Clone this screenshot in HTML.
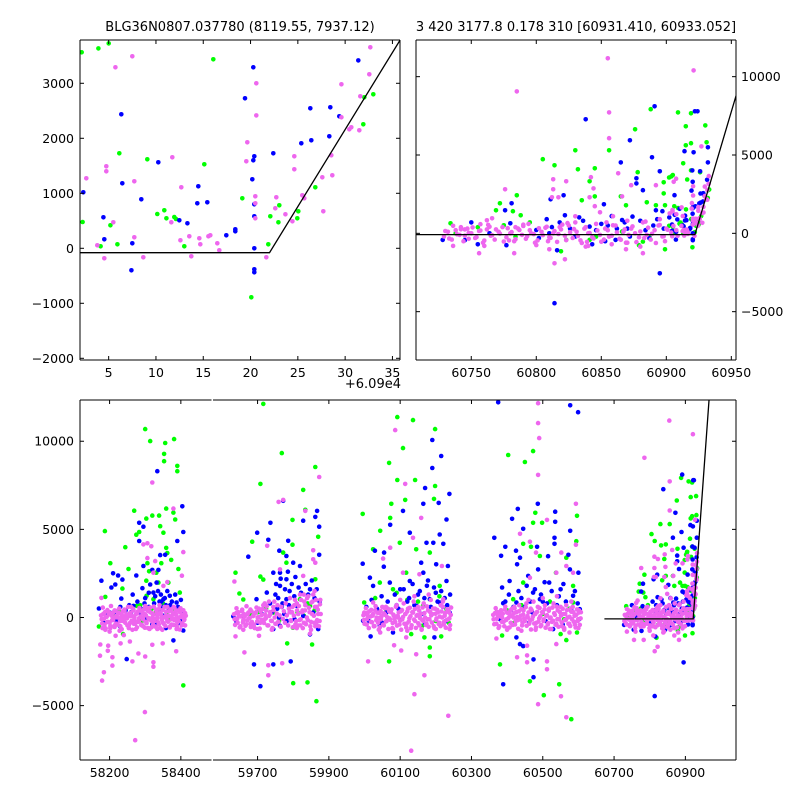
<!DOCTYPE html>
<html><head><meta charset="utf-8">
<style>
html,body{margin:0;padding:0;background:#fff;}
svg{display:block;font-family:"DejaVu Sans","Liberation Sans",sans-serif;}
</style></head>
<body>
<svg id="chart" width="800" height="800" viewBox="0 0 800 800" xmlns="http://www.w3.org/2000/svg">
<rect x="0" y="0" width="800" height="800" fill="#fff"/>
<text x="240" y="31" font-size="13" text-anchor="middle">BLG36N0807.037780 (8119.55, 7937.12)</text>
<text x="576" y="31" font-size="13" text-anchor="middle">3 420 3177.8 0.178 310 [60931.410, 60933.052]</text>
<text x="401" y="388" font-size="13" text-anchor="end">+6.09e4</text>
<defs>
<clipPath id="clipTL"><rect x="80" y="40" width="320" height="320"/></clipPath>
<clipPath id="clipTR"><rect x="416" y="40" width="320" height="320"/></clipPath>
<clipPath id="clipB1"><rect x="80" y="400" width="131.5" height="360"/></clipPath>
<clipPath id="clipB2"><rect x="213" y="400" width="523" height="360"/></clipPath>
</defs>
<g id="layer"></g>
</svg>
<script>
// ---------- DATA ----------
const OFFSET = 60900;
// top-left zoom data: [days after 60900, flux]
const tlGreen = [[2.15,3563],[3.91,3635],[5.0,3726],[16.06,3436],[6.13,1727],[9.09,1618],[15.11,1527],[2.25,478],[5.18,418],[5.92,72],[4.15,36],[10.14,624],[10.88,690],[11.1,545],[11.94,569],[12.12,533],[13.0,36],[19.13,908],[20.08,-891],[21.88,72],[22.09,581],[22.94,472],[23.04,781],[24.94,545],[25.05,672],[26.85,1108],[31.92,2254],[32.03,2745],[32.98,2799]];
const tlBlue = [[20.29,3290],[6.34,2436],[19.41,2727],[10.25,1563],[6.44,1181],[2.32,1018],[8.45,890],[14.48,1127],[14.37,818],[15.43,836],[4.44,563],[12.47,509],[13.32,454],[4.54,163],[7.5,90],[17.44,236],[18.39,345],[18.39,309],[20.4,1672],[20.29,1599],[20.19,1254],[20.4,799],[20.4,581],[20.4,-1],[20.4,-382],[20.4,-437],[7.4,-400],[22.41,1727],[25.37,1908],[26.42,1963],[26.32,2545],[28.43,2563],[29.38,2399],[28.33,2036],[31.39,3417]];
const tlPink = [[7.5,3490],[5.71,3290],[20.61,2999],[20.61,2417],[2.64,1272],[4.75,1490],[4.75,1399],[7.71,1218],[11.73,1654],[12.68,1108],[5.49,472],[11.62,472],[7.71,199],[3.8,54],[4.54,-182],[8.66,-164],[12.58,145],[13.53,218],[14.58,181],[14.69,72],[15.54,218],[15.75,236],[16.49,90],[16.7,-37],[13.74,-146],[19.66,1927],[19.55,1581],[20.5,945],[20.5,818],[20.5,545],[21.67,-164],[22.72,927],[22.62,727],[23.68,618],[24.42,490],[24.63,1672],[24.63,1436],[25.47,963],[25.68,908],[27.59,1290],[28.64,1327],[28.54,1690],[27.69,672],[29.6,2981],[29.6,2381],[30.44,2163],[30.65,2199],[31.5,2145],[31.6,2763],[32.55,3163],[32.66,3654]];

// season 1
const c1Green = [[58300,10690],[58314,10010],[58356,9900],[58381,10120],[58353,9280],[58353,8870],[58390,8600],[58390,8300],[58269,6060],[58303,5610],[58320,5780],[58339,5780],[58359,6180],[58379,5950],[58384,5560],[58283,4850],[58275,4700],[58351,4810],[58244,3990],[58187,4900],[58202,3080],[58253,2750],[58359,3950],[58362,3660],[58373,3270],[58393,2750],[58306,3080],[58311,2620],[58345,3080],[58331,2540],[58303,2090],[58337,1980],[58365,1980],[58188,1170],[58236,1640],[58342,5180],[58170,-510],[58407,-3850],[58304,1230],[58323,1040],[58276,660],[58360,280],[58397,1410],[58238,-940],[58388,-470],[58250,100],[58290,-200],[58330,300],[58210,150],[58370,-100],[58226,400],[58286,700],[58318,500],[58350,800],[58380,350],[58196,200]];
const c1Blue = [[58334,8300],[58404,6310],[58283,5370],[58295,5150],[58283,4340],[58390,4340],[58407,4850],[58210,2510],[58224,2380],[58236,2150],[58177,2090],[58205,1700],[58216,1870],[58233,1070],[58275,2380],[58295,2920],[58320,2700],[58337,2700],[58342,3540],[58356,3560],[58292,1660],[58314,1870],[58332,1980],[58323,1410],[58351,1040],[58369,1230],[58388,850],[58397,470],[58267,660],[58285,280],[58248,-2360],[58379,-1300],[58407,-740],[58170,510],[58201,280],[58304,-90],[58341,470],[58332,-280],[58260,300],[58350,100],[58395,-300],[58220,-200],[58310,600],[58345,900],[58370,700],[58300,1100],[58265,1300],
[58325,800],[58328,1200],[58336,1500],[58340,900],[58344,1300],[58348,600],[58355,1100],[58358,700],[58362,1500],[58366,400],[58375,900],[58384,1300],[58392,600],[58400,1000],[58404,300],[58310,1400],[58298,800],[58288,500],[58278,900],[58255,700],[58245,400],[58230,600],[58212,300],[58190,100],[58183,-300],[58229,-500],[58320,-400],[58358,-600],[58402,-100]];
const c1Pink = [[58320,7660],[58379,6180],[58407,3710],[58403,2370],[58295,4150],[58306,4210],[58317,4040],[58306,3370],[58328,3200],[58362,2010],[58177,1110],[58323,2540],[58351,1790],[58179,-3580],[58184,-3110],[58173,-2170],[58208,-2260],[58196,-1600],[58208,-2730],[58174,-1530],[58195,-1890],[58299,-5370],[58272,-6960],[58281,-2040],[58264,-2490],[58300,-2210],[58323,-2540],[58323,-2790],[58349,-1470],[58387,-1920],[58320,-1550],[58231,-1470],[58257,-1360],[58217,-1040],[58240,-1000],[58200,-800],[58180,-600],
[58178,-100],[58182,200],[58186,-400],[58190,50],[58194,-250],[58198,300],[58202,-600],[58206,100],[58210,-150],[58214,400],[58218,-350],[58222,0],[58226,250],[58230,-500],[58234,150],[58238,-200],[58242,350],[58246,-50],[58250,-450],[58254,200],[58258,-300],[58262,100],[58266,500],[58270,-150],[58274,-650],[58278,250],[58282,-50],[58286,400],[58290,-400],[58294,0],[58298,200],[58302,-250],[58306,550],[58310,-100],[58314,300],[58318,-550],[58322,150],[58326,-200],[58330,450],[58334,-50],[58338,-400],[58342,250],[58346,0],[58350,-300],[58354,600],[58358,100],[58362,-200],[58366,350],[58370,-500],[58374,50],[58378,200],[58382,-150],[58386,400],[58390,-300],[58394,0],[58398,300],[58402,-450],[58406,150],[58410,-100],[58412,250],[58200,-300],[58240,50],[58280,-250],[58320,0],[58360,-50],[58400,50],[58260,600],[58300,650],[58340,700],[58380,600],[58188,-700],[58228,-750],[58268,-350],[58308,-600],[58348,-700],[58388,-650],[58214,-450],[58254,-600],[58294,-500],[58334,-650],[58374,-400],
[58176,120],[58179,-340],[58181,560],[58184,-80],[58187,300],[58189,-620],[58192,40],[58194,420],[58197,-260],[58199,180],[58202,-480],[58204,650],[58207,-150],[58209,260],[58212,-30],[58214,-540],[58217,380],[58219,90],[58222,-400],[58224,220],[58227,510],[58229,-210],[58232,0],[58234,-660],[58237,340],[58239,-120],[58242,450],[58244,-300],[58247,150],[58249,-50],[58252,600],[58254,-450],[58257,80],[58259,280],[58262,-180],[58264,-700],[58267,410],[58269,20],[58272,-350],[58274,190],[58277,-560],[58279,330],[58282,-220],[58284,540],[58287,60],[58289,-430],[58292,270],[58294,-110],[58297,470],[58299,-580],[58302,130],[58304,-320],[58307,380],[58309,-30],[58312,-650],[58314,560],[58317,-190],[58319,240],[58322,-410],[58324,620],[58327,-90],[58329,-520],[58332,300],[58334,110],[58337,-280],[58339,500],[58342,-600],[58344,200],[58347,-130],[58349,420],[58352,-360],[58354,40],[58357,-480],[58359,330],[58362,600],[58364,-240],[58367,90],[58369,-570],[58372,460],[58374,-100],[58377,280],[58379,-420],[58382,560],[58384,-60],[58387,170],[58389,-510],[58392,390],[58394,-200],[58397,-680],[58399,520],[58402,20],[58404,-330],[58407,410],[58409,-150],[58412,-450],[58414,100]];

// season 2
const c2Green = [[59716,12120],[59768,9330],[59708,7580],[59862,8540],[59828,7240],[59834,6110],[59798,5540],[59685,4300],[59870,4580],[59798,4130],[59638,2540],[59708,2320],[59716,2150],[59649,1360],[59660,1020],[59772,3680],[59781,3110],[59862,2170],[59783,-1470],[59800,-3730],[59840,-3680],[59865,-4750],[59853,-1530],[59799,-580],[59744,280],[59847,660],[59819,1040],[59700,300],[59760,-200],[59830,100],[59860,400],[59840,800],[59812,300],[59680,200],[59724,500]];
const c2Blue = [[59772,6620],[59736,5370],[59699,4810],[59730,4410],[59786,4350],[59674,3450],[59761,3790],[59828,5490],[59867,6050],[59862,5710],[59873,5150],[59873,3560],[59744,2540],[59763,2540],[59781,3490],[59800,3110],[59819,2920],[59763,1790],[59781,2170],[59847,1600],[59726,1410],[59781,1040],[59810,660],[59856,280],[59632,60],[59697,1040],[59690,-2660],[59708,-3900],[59744,-2660],[59793,-2490],[59847,-960],[59763,-470],[59744,-660],[59870,-660],[59828,90],[59750,1300],[59770,800],[59790,1500],[59755,500],[59775,200],[59735,800],[59795,300],[59860,1100],[59700,-300],
[59752,1900],[59758,1100],[59765,2200],[59768,600],[59777,1600],[59785,2600],[59788,700],[59796,1900],[59803,1200],[59806,2300],[59815,1700],[59822,1400],[59835,1900],[59842,1300],[59852,2100],[59866,1600],[59874,900],[59740,300],[59760,0],[59782,-200],[59640,-200],[59660,100],[59712,200],[59804,-100],[59864,-300]];
const c2Pink = [[59873,7970],[59759,6560],[59772,6670],[59834,6050],[59727,4070],[59763,2730],[59856,3300],[59862,3110],[59635,2040],[59856,3810],[59828,2360],[59663,-1980],[59730,-2710],[59730,-3280],[59769,-2600],[59638,-1070],[59704,-1040],[59847,-920],
[59636,-100],[59640,250],[59644,-300],[59648,100],[59652,-500],[59656,350],[59660,-150],[59664,50],[59668,-400],[59672,200],[59676,-50],[59680,450],[59684,-250],[59688,100],[59692,-600],[59696,300],[59700,0],[59704,500],[59708,-300],[59712,150],[59716,700],[59720,-100],[59724,400],[59728,-450],[59732,900],[59736,200],[59740,-200],[59744,600],[59748,0],[59752,-350],[59790,300],[59794,-200],[59798,600],[59802,100],[59806,-400],[59810,800],[59814,200],[59818,-150],[59822,1000],[59826,400],[59830,-300],[59834,700],[59838,0],[59842,1200],[59846,300],[59850,-250],[59854,900],[59858,100],[59862,-500],[59866,600],[59870,200],[59874,-200],[59876,1000],[59660,-700],[59700,-650],[59740,-700],[59810,-600],[59850,-700],[59720,800],[59830,1300],[59860,1500],[59680,-350],[59820,-450],[59865,-300],
[59634,180],[59637,-420],[59641,520],[59643,-60],[59646,300],[59650,-560],[59653,60],[59657,440],[59659,-280],[59662,200],[59666,-470],[59669,640],[59671,-170],[59674,280],[59678,-20],[59681,-540],[59683,360],[59687,80],[59690,-400],[59693,240],[59697,560],[59699,-220],[59702,20],[59706,-630],[59709,360],[59711,-130],[59714,480],[59718,-310],[59721,170],[59723,-40],[59726,650],[59730,-450],[59733,90],[59735,300],[59738,-190],[59742,-600],[59745,420],[59747,900],[59750,-360],[59754,220],[59756,700],[59758,-250],[59762,120],[59765,-520],[59767,600],[59771,-80],[59774,350],[59777,-300],[59779,800],[59782,120],[59786,-450],[59788,500],[59791,1100],[59793,-160],[59797,300],[59799,-550],[59803,700],[59805,1000],[59808,-200],[59811,400],[59813,-450],[59816,650],[59819,1300],[59821,-100],[59825,300],[59827,-600],[59831,900],[59833,400],[59836,-380],[59839,1100],[59841,-150],[59844,550],[59848,-500],[59851,850],[59853,200],[59856,1300],[59859,-300],[59861,600],[59864,1000],[59867,-150],[59869,450],[59872,-500],[59875,750],[59877,200]];

// season 3
const c3Green = [[60092,11370],[60136,11200],[60198,10690],[60108,9610],[60069,8770],[60092,7800],[60142,7800],[60198,7460],[60075,6450],[60114,6670],[60195,6730],[59995,5880],[60072,5650],[60044,4920],[60024,3870],[60099,4240],[60145,3870],[60183,3680],[60117,2540],[60043,1980],[60211,1790],[60080,1600],[59999,850],[60164,660],[60230,470],[60183,-1700],[60183,-2200],[60069,-2490],[60131,-940],[60168,-1130],[60215,-1070],[60162,-470],[60060,300],[60120,1000],[60200,-200],[60030,1100],[60090,1400],[60150,900],[60210,1200],[60236,-300]];
const c3Blue = [[60190,10070],[60215,9160],[60190,8480],[60170,7350],[60238,7010],[60165,6450],[60108,6050],[60208,6500],[60072,5260],[60230,5560],[60211,4710],[60127,4810],[59995,3050],[60029,3790],[60055,3680],[60174,4240],[60193,4240],[60221,4180],[60159,3110],[60201,3020],[60234,2920],[60054,2880],[60015,2260],[60071,1980],[60127,2070],[60165,2540],[60230,2070],[60024,1790],[60100,1600],[60183,1040],[60211,850],[60146,660],[60061,280],[59996,-190],[60017,-1070],[60080,-850],[60196,-1130],[60239,280],[60043,-470],[60150,1300],[60175,1800],[60120,900],[60200,1400],[60090,700],[60220,600],[60160,200],
[60005,600],[60020,1000],[60035,500],[60048,1200],[60065,900],[60085,1300],[60095,500],[60110,1600],[60125,1100],[60135,1900],[60140,700],[60155,1500],[60168,1100],[60178,2100],[60186,600],[60195,1700],[60205,900],[60215,1500],[60225,1100],[60232,700],[60240,1300],[60012,-200],[60050,-300],[60105,-100],[60170,-350],[60228,-200]];
const c3Pink = [[60086,10630],[60114,7580],[60159,5650],[60136,4520],[60072,3960],[60052,3340],[60108,2540],[60154,2450],[60217,2920],[60010,-2490],[60083,-1580],[60103,-1870],[60145,-2090],[60168,-3280],[60140,-4350],[60235,-5580],[60131,-7560],[60044,-850],[60117,-1130],[60239,-660],[59999,280],[60221,1040],[60024,850],
[59998,-150],[60002,200],[60006,-400],[60010,50],[60014,350],[60018,-250],[60022,100],[60026,-500],[60030,400],[60034,0],[60038,-300],[60042,250],[60046,-100],[60050,600],[60054,-450],[60058,150],[60062,-200],[60066,500],[60070,-50],[60074,300],[60078,-600],[60082,100],[60086,-250],[60090,700],[60094,0],[60098,-400],[60102,350],[60106,-100],[60110,800],[60114,200],[60118,-350],[60122,500],[60126,-50],[60130,-600],[60134,300],[60138,900],[60142,-200],[60146,100],[60150,600],[60154,-450],[60158,200],[60162,-150],[60166,800],[60170,0],[60174,-350],[60178,400],[60182,-100],[60186,1000],[60190,200],[60194,-500],[60198,500],[60202,-50],[60206,300],[60210,-300],[60214,700],[60218,0],[60222,-400],[60226,250],[60230,-150],[60234,400],[60238,-50],[60242,150],[60040,-700],[60080,-650],[60120,-750],[60160,-700],[60200,-650],[60060,600],[60100,1000],[60140,1200],[60180,1300],[60220,900],
[59997,130],[60000,-360],[60004,540],[60007,-90],[60009,280],[60012,-600],[60016,50],[60019,430],[60021,-270],[60024,190],[60028,-490],[60031,640],[60033,-160],[60036,270],[60040,-40],[60043,-550],[60045,370],[60048,80],[60052,-410],[60055,230],[60057,520],[60060,-220],[60064,10],[60067,-650],[60069,350],[60072,-130],[60076,460],[60079,-310],[60081,160],[60084,-60],[60088,610],[60091,-460],[60093,90],[60096,290],[60100,-190],[60103,-690],[60105,420],[60108,30],[60112,-360],[60115,200],[60117,-570],[60120,340],[60124,-230],[60127,550],[60129,70],[60132,-440],[60136,280],[60139,-120],[60141,480],[60144,-590],[60148,140],[60151,-330],[60153,390],[60156,-40],[60160,-660],[60163,570],[60165,-200],[60168,250],[60172,-420],[60175,630],[60177,-100],[60180,-530],[60184,310],[60187,120],[60189,-290],[60192,510],[60196,-610],[60199,210],[60201,-140],[60204,430],[60208,-370],[60211,50],[60213,-490],[60216,340],[60220,610],[60223,-250],[60225,100],[60228,-580],[60232,470],[60235,-110],[60237,290],[60240,-430],[60243,560]];

// season 4
const c4Green = [[60403,9220],[60473,9440],[60450,8820],[60479,5940],[60473,5370],[60498,5370],[60596,5770],[60445,4180],[60467,4010],[60492,3490],[60566,3390],[60594,4330],[60445,1980],[60537,2540],[60585,1790],[60417,1040],[60585,850],[60386,-1020],[60380,-2660],[60464,-3620],[60503,-4410],[60546,-3790],[60580,-5770],[60566,-1280],[60550,-940],[60596,-850],[60370,280],[60420,-300],[60500,200],[60560,-100],[60440,700],[60520,900],[60575,500],[60400,400]];
const c4Blue = [[60375,12210],[60577,12040],[60599,11650],[60430,6160],[60486,6450],[60414,5600],[60535,6000],[60535,5430],[60445,5030],[60577,4920],[60364,4520],[60395,4010],[60383,3500],[60425,3790],[60436,3390],[60484,4010],[60533,4520],[60533,4180],[60572,3560],[60515,3480],[60487,2730],[60459,2360],[60428,3020],[60576,2730],[60600,2540],[60386,1700],[60407,2070],[60518,1980],[60473,1410],[60550,1600],[60585,1230],[60426,850],[60492,1040],[60389,810],[60426,-1130],[60445,-1620],[60389,-3790],[60474,-3390],[60474,-2380],[60436,-1510],[60529,-660],[60604,470],[60450,600],[60500,900],[60540,700],[60580,400],[60470,300],[60410,400],
[60395,900],[60405,1300],[60418,600],[60432,1500],[60440,1100],[60455,1800],[60465,900],[60478,1600],[60495,1300],[60505,2000],[60512,800],[60525,1500],[60545,1200],[60558,1900],[60565,900],[60590,1500],[60598,800],[60380,-100],[60462,-300],[60508,-200],[60556,-400],[60602,-100]];
const c4Pink = [[60487,12160],[60487,11030],[60490,10180],[60487,8090],[60593,6450],[60512,5540],[60436,4750],[60464,4300],[60481,3680],[60593,4130],[60552,3680],[60566,2920],[60464,2260],[60538,2540],[60585,2540],[60428,-2260],[60456,-2150],[60456,-2540],[60512,-2490],[60512,-2940],[60487,-4920],[60551,-4470],[60566,-5660],[60370,-1190],[60456,-1600],[60538,-1510],[60575,-850],
[60362,-100],[60366,250],[60370,-350],[60374,100],[60378,-500],[60382,300],[60386,0],[60390,-250],[60394,450],[60398,-100],[60402,-600],[60406,200],[60410,-300],[60414,500],[60418,0],[60422,-400],[60426,300],[60430,-150],[60434,700],[60438,100],[60442,-450],[60446,400],[60450,-200],[60454,800],[60458,0],[60462,-350],[60466,500],[60470,-100],[60474,900],[60478,200],[60482,-300],[60486,600],[60490,-50],[60494,-500],[60498,300],[60502,-200],[60506,700],[60510,100],[60514,-400],[60518,500],[60522,0],[60526,-250],[60530,800],[60534,150],[60538,-350],[60542,400],[60546,-100],[60550,600],[60554,-500],[60558,200],[60562,-150],[60566,700],[60570,0],[60574,-350],[60578,500],[60582,-100],[60586,300],[60590,-400],[60594,150],[60598,-200],[60602,400],[60606,-50],[60400,-700],[60440,-750],[60480,-700],[60520,-650],[60560,-700],[60600,-600],[60420,600],[60460,1000],[60500,1100],[60540,1200],[60580,900],
[60361,150],[60364,-380],[60368,530],[60371,-70],[60373,310],[60376,-590],[60380,70],[60383,410],[60385,-250],[60388,210],[60392,-500],[60395,620],[60397,-140],[60400,280],[60404,-20],[60407,-560],[60409,390],[60412,100],[60416,-420],[60419,240],[60421,530],[60424,-200],[60428,30],[60431,-640],[60433,350],[60436,-110],[60440,470],[60443,-290],[60445,170],[60448,-60],[60452,590],[60455,-470],[60457,80],[60460,290],[60464,-180],[60467,-680],[60469,410],[60472,40],[60476,-340],[60479,200],[60481,-560],[60484,320],[60488,-230],[60491,540],[60493,70],[60496,-430],[60500,270],[60503,-110],[60505,470],[60508,-580],[60512,130],[60515,-320],[60517,380],[60520,-30],[60524,-650],[60527,560],[60529,-190],[60532,240],[60536,-410],[60539,620],[60541,-90],[60544,-520],[60548,300],[60551,110],[60553,-280],[60556,500],[60560,-600],[60563,200],[60565,-130],[60568,420],[60572,-360],[60575,40],[60577,-480],[60580,330],[60584,600],[60587,-240],[60589,90],[60592,-570],[60596,460],[60599,-100],[60601,280],[60604,-420],[60607,300]];

// season 5
const c5Green = [[60888,7920],[60876,6640],[60856,5300],[60830,5300],[60805,4730],[60814,4340],[60832,4090],[60845,4150],[60841,3320],[60878,3900],[60898,3260],[60898,2550],[60845,2360],[60865,2360],[60785,2430],[60835,2110],[60869,1790],[60885,1980],[60772,1920],[60769,1470],[60782,1410],[60788,1150],[60795,700],[60775,510],[60755,390],[60734,640],[60899,1790],[60892,1790],[60899,-1020],[60819,-1150],[60879,-760],[60738,0],[60784,-210],[60823,-420],[60846,-210],[60866,110],[60887,-210],[60841,-420],[60882,-530],
[60909,7720],[60915,6830],[60919,7660],[60930,6890],[60931,5810],[60919,5750],[60915,5620],[60913,4470],[60919,4020],[60926,3900]];
const c5Blue = [[60891,8110],[60838,7280],[60872,5940],[60889,4850],[60865,4530],[60895,3960],[60877,3510],[60877,3190],[60882,2750],[60821,2430],[60811,2170],[60852,1850],[60781,1920],[60776,1470],[60892,1470],[60897,1410],[60750,700],[60780,640],[60822,1150],[60833,1020],[60895,-2550],[60814,-4460],[60816,-1080],[60843,-700],[60777,-760],[60745,-440],[60755,-700],[60866,850],[60874,1070],[60800,210],[60810,0],[60841,430],[60861,-420],[60887,-320],[60764,0],[60728,-420],[60850,600],[60870,300],[60890,500],[60830,-200],[60880,800],
[60922,7790],[60924,7790],[60932,5490],[60914,5240],[60921,5170],[60932,4530],[60920,4020],[60926,3960],
[60808,900],[60812,400],[60818,700],[60826,300],[60836,800],[60846,200],[60855,500],[60858,1100],[60862,300],[60868,700],[60884,200],[60893,900],[60898,300],[60802,-300],[60853,-500],[60872,-200]];
const c5Pink = [[60855,11170],[60785,9060],[60856,7720],[60856,6070],[60863,3830],[60813,3450],[60813,2810],[60776,2810],[60823,3320],[60842,3580],[60844,2870],[60873,3070],[60892,3070],[60866,2360],[60841,2300],[60812,2300],[60817,2300],[60845,1730],[60762,830],[60766,960],[60757,580],[60742,390],[60784,390],[60859,1090],[60830,1090],[60849,1340],[60814,-1910],[60822,-1660],[60810,-1020],[60783,-1270],[60756,-1270],[60736,-800],[60882,-1270],[60869,-1020],[60838,-850],
[60921,10400],[60927,5550],
[60729,-200],[60732,100],[60735,-400],[60738,200],[60741,-100],[60744,-500],[60747,300],[60750,0],[60753,-300],[60756,150],[60759,-600],[60762,250],[60765,-150],[60768,-400],[60771,100],[60774,400],[60777,-250],[60780,0],[60783,-500],[60786,300],[60789,-100],[60792,-350],[60795,200],[60798,-50],[60801,-450],[60804,100],[60807,350],[60810,-250],[60813,0],[60816,-550],[60819,250],[60822,-150],[60825,500],[60828,-300],[60831,100],[60834,-450],[60837,300],[60840,0],[60843,-250],[60846,600],[60849,-100],[60852,-400],[60855,200],[60858,-150],[60861,500],[60864,-350],[60867,100],[60870,-600],[60873,300],[60876,0],[60879,-250],[60882,700],[60885,-100],[60888,-400],[60891,200],[60894,500],[60897,-200],[60900,300],[60760,-800],[60800,-750],[60840,-800],[60880,-850],[60790,550],[60830,700],[60870,800],[60895,900],[60745,250],[60818,400],[60858,-700],
[60730,150],[60733,-330],[60736,480],[60739,-60],[60742,260],[60745,-150],[60748,30],[60751,380],[60754,-240],[60757,180],[60760,-460],[60763,540],[60766,-120],[60769,250],[60772,-20],[60775,-520],[60778,330],[60781,80],[60784,-380],[60787,210],[60790,470],[60793,-190],[60796,10],[60799,-600],[60802,320],[60805,-110],[60808,420],[60811,-290],[60814,150],[60817,-40],[60820,560],[60823,-430],[60826,70],[60829,270],[60832,-170],[60835,-620],[60838,390],[60841,20],[60844,-330],[60847,180],[60850,-540],[60853,300],[60856,-210],[60859,510],[60862,60],[60865,-410],[60868,250],[60871,-100],[60874,440],[60877,-560],[60880,120],[60883,-300],[60886,360],[60889,-30],[60892,-620],[60895,530],[60898,-180],[60901,230],[60748,-350],[60764,420],[60779,-450],[60794,600],[60809,-500],[60824,650],[60839,-550],[60854,700],[60869,-600],[60884,750],[60899,-500]];

// tick labels
const tlXTicks = [5,10,15,20,25,30,35];
const tlYTicks = [-2000,-1000,0,1000,2000,3000];
const trXTicks = [60750,60800,60850,60900,60950];
const trYTicks = [-5000,0,5000,10000];
const bX1Ticks = [58200,58400];
const bX2Ticks = [59700,59900,60100,60300,60500,60700,60900];
const bYTicks = [-5000,0,5000,10000];
// model: flat baseline then linear rise
const modelBase = -80, modelBreak = 60922, modelSlope = 280;

// ---------- AXES ----------
const TL = {x0:80,x1:400,y0:40,y1:360,tmin:60901.97,tmax:60935.8,fmin:-2031,fmax:3787};
const TR = {x0:416,x1:736,y0:40,y1:360,tmin:60707.5,tmax:60953.6,fmin:-8085,fmax:12340};
const B1 = {x0:80,x1:211.5,y0:400,y1:760,tmin:58117,tmax:58486,fmin:-8085,fmax:12340};
const B2 = {x0:213,x1:736,y0:400,y1:760,tmin:59575,tmax:61042,fmin:-8085,fmax:12340};
function sx(a,t){return a.x0+(t-a.tmin)/(a.tmax-a.tmin)*(a.x1-a.x0);}
function sy(a,f){return a.y1-(f-a.fmin)/(a.fmax-a.fmin)*(a.y1-a.y0);}

const NS='http://www.w3.org/2000/svg';
const layer=document.getElementById('layer');
function mk(tag,attrs,parent){const e=document.createElementNS(NS,tag);for(const k in attrs)e.setAttribute(k,attrs[k]);(parent||layer).appendChild(e);return e;}

const COLORS={green:'#00ff00',blue:'#0000ff',pink:'#ee66ee'};
const tlAbs = arr => arr.map(p=>[p[0]+OFFSET,p[1]]);
const allGreen = [].concat(c1Green,c2Green,c3Green,c4Green,c5Green,tlAbs(tlGreen));
const allBlue = [].concat(c1Blue,c2Blue,c3Blue,c4Blue,c5Blue,tlAbs(tlBlue));
const allPink = [].concat(c1Pink,c2Pink,c3Pink,c4Pink,c5Pink,tlAbs(tlPink));

function drawPoints(ax,clip,name,r,sets){
  const g=mk('g',{'clip-path':'url(#'+clip+')'});
  
  
  sets.forEach(([c,arr])=>{
    arr.forEach(p=>{
      if(p[0]<ax.tmin-2||p[0]>ax.tmax+2)return;
      const e=mk('circle',{cx:sx(ax,p[0]).toFixed(1),cy:sy(ax,p[1]).toFixed(1),r:r,fill:COLORS[c]},g);
      
      
    });
  });
}
function drawModel(ax,clip,tStart,name){
  const ts=[tStart,modelBreak,61010];
  const pts=ts.map(t=>{const f=t<modelBreak?modelBase:modelBase+(t-modelBreak)*modelSlope;return sx(ax,t).toFixed(1)+','+sy(ax,f).toFixed(1);}).join(' ');
  const e=mk('polyline',{points:pts,fill:'none',stroke:'#000','stroke-width':1.3,'clip-path':'url(#'+clip+')'});
  
  
}
function drawFrame(ax,name,sides){
  const s=sides||{l:1,r:1,t:1,b:1};
  const g=mk('g',{stroke:'#000','stroke-width':1,fill:'none'});
  
  
  if(s.t)mk('line',{x1:ax.x0,y1:ax.y0,x2:ax.x1,y2:ax.y0},g);
  if(s.b)mk('line',{x1:ax.x0,y1:ax.y1,x2:ax.x1,y2:ax.y1},g);
  if(s.l)mk('line',{x1:ax.x0,y1:ax.y0,x2:ax.x0,y2:ax.y1},g);
  if(s.r)mk('line',{x1:ax.x1,y1:ax.y0,x2:ax.x1,y2:ax.y1},g);
}
function xTicks(ax,ticks,toT,labelFn,name){
  ticks.forEach(v=>{
    const x=sx(ax,toT(v));
    mk('line',{x1:x,y1:ax.y1,x2:x,y2:ax.y1-4,stroke:'#000'});
    mk('line',{x1:x,y1:ax.y0,x2:x,y2:ax.y0+4,stroke:'#000'});
    const t=mk('text',{x:x,y:ax.y1+17,'font-size':12.5,'text-anchor':'middle'});
    t.textContent=labelFn(v);
    
    
  });
}
function yTicks(ax,ticks,side,name,both){
  ticks.forEach(v=>{
    const y=sy(ax,v);
    if(both||side==='left')mk('line',{x1:ax.x0,y1:y,x2:ax.x0+4,y2:y,stroke:'#000'});
    if(both||side==='right')mk('line',{x1:ax.x1,y1:y,x2:ax.x1-4,y2:y,stroke:'#000'});
    const t=mk('text',{x:side==='left'?ax.x0-6:ax.x1+5,y:y+4.5,'font-size':12.5,'text-anchor':side==='left'?'end':'start'});
    t.textContent=String(v).replace('-','\u2212');
    
    
  });
}

const allSets=[['green',allGreen],['blue',allBlue],['pink',allPink]];
const tlSets=[['green',tlAbs(tlGreen)],['blue',tlAbs(tlBlue)],['pink',tlAbs(tlPink)]];
// top-left
drawPoints(TL,'clipTL','top-left',2.3,tlSets);
drawModel(TL,'clipTL',60890,'top-left-model-line');
drawFrame(TL,'top-left-frame');
xTicks(TL,tlXTicks,v=>v+OFFSET,v=>String(v),'top-left-x-tick');
yTicks(TL,tlYTicks,'left','top-left-y-tick',true);
// top-right
drawPoints(TR,'clipTR','top-right',2.3,allSets);
drawModel(TR,'clipTR',60700,'top-right-model-line');
drawFrame(TR,'top-right-frame');
xTicks(TR,trXTicks,v=>v,v=>String(v),'top-right-x-tick');
yTicks(TR,trYTicks,'right','top-right-y-tick',true);
// bottom
drawPoints(B1,'clipB1','bottom-season1',2.3,allSets);
drawPoints(B2,'clipB2','bottom-later-seasons',2.3,allSets);
drawModel(B2,'clipB2',60673,'bottom-model-line');
drawFrame(B1,'bottom-left-frame',{l:1,t:1,b:1,r:0});
drawFrame(B2,'bottom-right-frame',{l:0,t:1,b:1,r:1});
xTicks(B1,bX1Ticks,v=>v,v=>String(v),'bottom-x-tick');
xTicks(B2,bX2Ticks,v=>v,v=>String(v),'bottom-x-tick');
yTicks(B1,bYTicks,'left','bottom-y-tick',false);
bYTicks.forEach(v=>{const y=sy(B2,v);mk('line',{x1:B2.x1,y1:y,x2:B2.x1-4,y2:y,stroke:'#000'});});
</script>
</body></html>
